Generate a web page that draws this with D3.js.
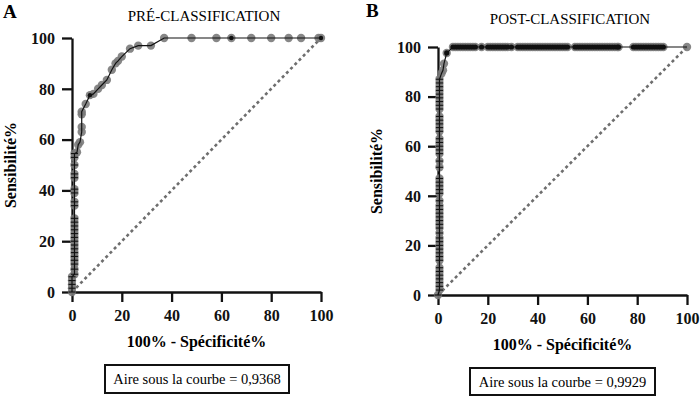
<!DOCTYPE html>
<html>
<head>
<meta charset="utf-8">
<script src="https://cdn.jsdelivr.net/npm/d3@7/dist/d3.min.js"></script>
<style>
  body { margin: 0; background: #fff; }
  svg { display: block; font-family: "Liberation Serif", "Times New Roman", serif; }
</style>
</head>
<body>
<svg id="chart" width="700" height="397"></svg>
<script>
// ---- data ----
const tickVals = [0, 20, 40, 60, 80, 100];

// panel A : pre-classification ROC
const aX = [0, 0, 0, 0, 0,
  1, 1, 1, 1, 1, 1, 1, 1, 1, 1, 1, 1, 1, 1, 1,
  1, 1, 1, 1, 1, 1, 1, 1, 1,
  2, 2.5, 3.2, 3.9, 3.9, 3.9, 3.9, 5.5, 7.2, 8.6, 10.5, 12, 14, 16, 17.5, 18.5, 20, 23.3, 26.6, 31.7,
  37, 48, 58, 64, 72, 80, 87, 92, 99, 100];
const aY = [0, 1.5, 3, 4.5, 6,
  7, 9, 11, 12.5, 14, 15.5, 17, 18.5, 20, 21.5, 23, 24.5, 26, 27.5, 29,
  34, 35.5, 39, 40.5, 45, 46.5, 50, 53, 54.5,
  55, 58, 59, 63, 65, 70, 71, 74, 77.5, 78, 80, 81.5, 83.5, 87.5, 90, 91, 92.7, 95.8, 97, 97,
  100, 100, 100, 100, 100, 100, 100, 100, 100, 100];
const aDotX = [7.2, 64, 100];
const aDotY = [77.5, 100, 100];
const aAuc = "0,9368";

// panel B : post-classification ROC
const bVertY = [0, 2, 3.5, 5, 6.5, 8, 9.5, 11, 14, 15.5, 17, 18.5, 20, 21.5, 23, 25, 27, 28.5, 30,
  31.5, 33, 34.5, 36, 38, 41, 42.5, 44, 45.5, 47, 51.5, 54, 57, 58.5, 60, 61.5, 63, 66, 67.5, 69,
  70.5, 72, 75, 76.5, 78, 79.5, 81, 82.5, 84, 85.5, 87];
const bVertX = [0, 0.6, 0.6, 0.6, 0.6, 0.6, 0.6, 0.6, 0.6, 0.6, 0.6, 0.6, 0.6, 0.6, 0.6, 0.6, 0.6, 0.6, 0.6,
  0.6, 0.6, 0.6, 0.6, 0.6, 0.6, 0.6, 0.6, 0.6, 0.6, 0.6, 0.6, 0.6, 0.6, 0.6, 0.6, 0.6, 0.6, 0.6, 0.6,
  0.6, 0.6, 0.6, 0.6, 0.6, 0.6, 0.6, 0.6, 0.6, 0.6, 0.6];
const bBendX = [1.4, 2, 2.4, 3.5];
const bBendY = [89.3, 90.6, 93.3, 97.6];
const bTopX = [6, 7, 8, 9, 10, 11, 12, 13, 14, 15,
  17.5,
  20, 21, 22, 23, 24, 25, 26, 27, 28, 29.5,
  32, 33, 34, 35, 36, 37, 38, 39, 40, 41, 42, 43, 44, 45, 46, 47, 48, 49, 50, 51, 52,
  55, 56, 57, 58, 59, 60, 61, 62, 63, 64, 65, 66, 67, 68, 69, 70, 71, 72, 72.5,
  78.5, 79.5, 80.5, 81.5, 82.5, 83.5, 84.5, 85.5, 86.5, 87.5, 88.5, 89.5, 90.5];
const bEndX = [100];
const bDotX = [3.5];
const bDotY = [97.6];
const bAuc = "0,9929";

const svg = d3.select("#chart");

function panel(cfg) {
  const x = d3.scaleLinear().domain([0, 100]).range(cfg.xr);
  const y = d3.scaleLinear().domain([0, 100]).range(cfg.yr);
  const g = svg.append("g");
  const pts = cfg.xs.map((v, i) => ({ x: v, y: cfg.ys[i] }));

  // chance diagonal
  g.append("line")
    .attr("x1", x(0)).attr("y1", y(0)).attr("x2", x(100)).attr("y2", y(100))
    .attr("stroke", "#6e6e6e").attr("stroke-width", 2.6).attr("stroke-dasharray", "3,3");

  // axes
  const yAxis = g.append("g").attr("transform", `translate(${cfg.xr[0]},0)`)
    .call(d3.axisLeft(y).tickValues(tickVals).tickSize(10).tickSizeOuter(0).tickPadding(7));
  const xAxis = g.append("g").attr("transform", `translate(0,${cfg.yr[0]})`)
    .call(d3.axisBottom(x).tickValues(tickVals).tickSize(10).tickSizeOuter(0).tickPadding(8));
  [yAxis, xAxis].forEach(a => {
    a.selectAll("path,line").attr("stroke", "#111").attr("stroke-width", 2.3);
    a.selectAll("text").attr("fill", "#111").style("font-size", "16px").style("font-weight", "bold")
      .style("font-family", "'Liberation Serif', serif");
  });
  yAxis.selectAll("text").attr("dy", "0.33em");

  // points
  g.selectAll("circle.pt").data(pts).join("circle").attr("class", "pt")
    .attr("cx", d => x(d.x)).attr("cy", d => y(d.y)).attr("r", 4.2)
    .attr("fill", "#7a7a7a").attr("fill-opacity", 0.9);

  // black dots where points pile up
  g.selectAll("circle.dot").data(cfg.dots).join("circle").attr("class", "dot")
    .attr("cx", d => x(d.x)).attr("cy", d => y(d.y)).attr("r", cfg.dotR)
    .attr("fill", "#111");

  // ROC line
  g.append("path").datum(pts)
    .attr("d", d3.line().x(d => x(d.x)).y(d => y(d.y)))
    .attr("fill", "none").attr("stroke", "#111").attr("stroke-width", 1.2);

  // horizontal marks on the vertical part
  g.selectAll("line.tk").data(pts.filter(d => d.x <= 1)).join("line").attr("class", "tk")
    .attr("x1", d => x(d.x) - 3.5).attr("x2", d => x(d.x) + 3.5)
    .attr("y1", d => y(d.y)).attr("y2", d => y(d.y))
    .attr("stroke", "#111").attr("stroke-width", 1.1);

  // labels
  g.append("text").attr("x", cfg.letter[0]).attr("y", cfg.letter[1])
    .style("font-size", "19px").style("font-weight", "bold").text(cfg.letterText);
  g.append("text").attr("x", cfg.titleX).attr("y", cfg.titleY).attr("text-anchor", "middle")
    .style("font-size", "15px").text(cfg.title);
  g.append("text").attr("transform", `translate(${cfg.ylabX},${(cfg.yr[0] + cfg.yr[1]) / 2}) rotate(-90)`)
    .attr("text-anchor", "middle").style("font-size", "16px").style("font-weight", "bold")
    .text("Sensibilité%");
  g.append("text").attr("x", (cfg.xr[0] + cfg.xr[1]) / 2).attr("y", cfg.xlabY).attr("text-anchor", "middle")
    .style("font-size", "16px").style("font-weight", "bold").text("100% - Spécificité%");

  // AUC box
  const b = cfg.box;
  g.append("rect").attr("x", b[0]).attr("y", b[1]).attr("width", b[2]).attr("height", b[3])
    .attr("fill", "#fff").attr("stroke", "#111").attr("stroke-width", 2);
  g.append("text").attr("x", b[0] + b[2] / 2).attr("y", b[1] + b[3] / 2 + 5).attr("text-anchor", "middle")
    .style("font-size", "14.5px").text("Aire sous la courbe = " + cfg.auc);
}

panel({
  xr: [72, 321], yr: [292, 38], xs: aX, ys: aY,
  dots: aDotX.map((v, i) => ({ x: v, y: aDotY[i] })), dotR: 2.2,
  letter: [3, 18], letterText: "A",
  title: "PRÉ-CLASSIFICATION", titleX: 204, titleY: 21,
  ylabX: 16, xlabY: 347, box: [105, 365, 184, 28], auc: aAuc
});

panel({
  xr: [438, 687], yr: [295, 47],
  xs: [...bVertX, ...bBendX, ...bTopX, ...bEndX],
  ys: [...bVertY, ...bBendY, ...bTopX.map(() => 100), 100],
  dots: [...bDotX.map((v, i) => ({ x: v, y: bDotY[i] })), ...bTopX.map(v => ({ x: v, y: 100 }))], dotR: 2.6,
  letter: [366, 17], letterText: "B",
  title: "POST-CLASSIFICATION", titleX: 570, titleY: 24,
  ylabX: 382, xlabY: 350, box: [470, 368, 185, 27], auc: bAuc
});
</script>
</body>
</html>
